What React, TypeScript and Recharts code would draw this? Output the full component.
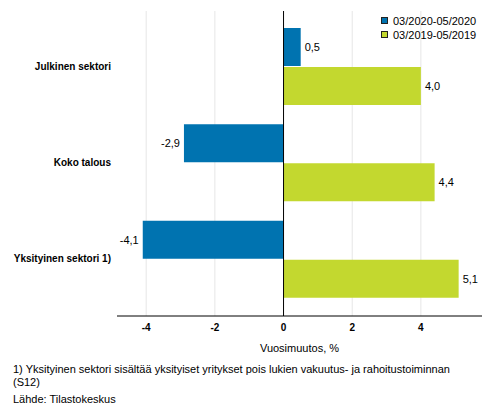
import React from 'react';
import { BarChart, Bar, XAxis, YAxis, CartesianGrid, ReferenceLine, LabelList, Legend } from 'recharts';

const categories = ['Julkinen sektori', 'Koko talous', 'Yksityinen sektori 1)'];
const series2020 = [0.5, -2.9, -4.1];
const series2019 = [4.0, 4.4, 5.1];
const seriesNames = ['03/2020-05/2020', '03/2019-05/2019'];
const seriesColors = ['#0073B0', '#C3D82F'];
const xTicks = [-4, -2, 0, 2, 4];
const xDomain = [-4.85, 5.78];
const axisTitle = 'Vuosimuutos, %';
const footnoteLines = [
  '1) Yksityinen sektori sisältää yksityiset yritykset pois lukien vakuutus- ja rahoitustoiminnan',
  '(S12)',
];
const sourceText = 'Lähde: Tilastokeskus';

const data = categories.map((name, i) => ({ name, a: series2020[i], b: series2019[i] }));

const FONT = '"Liberation Sans", Arial, Helvetica, sans-serif';

const fmt = (v: number) => v.toFixed(1).replace('.', ',');

const YTick = (props: any) => {
  const { x, y, payload } = props;
  return (
    <text x={x} y={y} dy={3.6} textAnchor="end" fontFamily={FONT} fontSize={10} fontWeight="bold" fill="#000">
      {payload.value}
    </text>
  );
};

const XTick = (props: any) => {
  const { x, y, payload } = props;
  return (
    <text x={x} y={y + 15} textAnchor="middle" fontFamily={FONT} fontSize={10} fontWeight="bold" fill="#000">
      {String(payload.value)}
    </text>
  );
};

const BarLabel = (props: any) => {
  const { x, y, width, height, value } = props;
  const left = Math.min(x, x + width);
  const right = Math.max(x, x + width);
  const neg = value < 0;
  return (
    <text
      x={neg ? left - 4 : right + 4}
      y={y + height / 2 + 4}
      textAnchor={neg ? 'end' : 'start'}
      fontFamily={FONT}
      fontSize={11}
      fill="#000"
    >
      {fmt(value)}
    </text>
  );
};

const renderLegend = (props: any) => {
  const payload = [...(props.payload || [])].sort(
    (p: any, q: any) => seriesNames.indexOf(p.value) - seriesNames.indexOf(q.value)
  );
  return (
    <div style={{ fontFamily: FONT, fontSize: 11, lineHeight: '14px', color: '#000' }}>
      {payload.map((p: any, i: number) => (
        <div key={i} style={{ display: 'flex', alignItems: 'center', height: 14 }}>
          <svg width={7} height={7} style={{ marginRight: 5, display: 'block' }}>
            <rect x={0.5} y={0.5} width={6} height={6} fill={p.color} stroke="#222" strokeWidth={1} />
          </svg>
          <span>{p.value}</span>
        </div>
      ))}
    </div>
  );
};

const AxisTitle = (props: any) => {
  const { viewBox } = props;
  return (
    <text
      x={viewBox.x + viewBox.width / 2}
      y={viewBox.y + 35.5}
      textAnchor="middle"
      fontFamily={FONT}
      fontSize={11}
      fill="#000"
    >
      {axisTitle}
    </text>
  );
};

export default function App() {
  return (
    <div style={{ position: 'absolute', left: 0, top: 0, width: 493, height: 416, background: '#fff' }}>
      <BarChart
        width={493}
        height={416}
        data={data}
        layout="vertical"
        margin={{ top: 11, right: 11, bottom: 70, left: 17 }}
        barSize={38}
        barGap={1}
      >
        <CartesianGrid horizontal={false} syncWithTicks stroke="#e6e6e6" strokeWidth={1} />
        <XAxis
          type="number"
          domain={xDomain}
          ticks={xTicks}
          allowDataOverflow
          height={30}
          tickLine={false}
          tickSize={0}
          tickMargin={0}
          axisLine={{ stroke: '#000', strokeWidth: 1 }}
          tick={<XTick />}
          label={<AxisTitle />}
        />
        <YAxis
          type="category"
          dataKey="name"
          width={100}
          axisLine={false}
          tickLine={false}
          tickSize={6}
          tickMargin={0}
          padding={{ top: 7, bottom: 9 }}
          tick={<YTick />}
          interval={0}
        />
        <ReferenceLine x={0} stroke="#000" strokeWidth={1} ifOverflow="extendDomain" />
        <Legend
          layout="vertical"
          align="center"
          verticalAlign="middle"
          itemSorter={null as any}
          content={renderLegend}
          wrapperStyle={{ position: 'absolute', left: 381, top: 13.5, width: 'auto', height: 'auto' }}
        />
        <Bar dataKey="a" name={seriesNames[0]} fill={seriesColors[0]} isAnimationActive={false}>
          <LabelList dataKey="a" content={<BarLabel />} />
        </Bar>
        <Bar dataKey="b" name={seriesNames[1]} fill={seriesColors[1]} isAnimationActive={false}>
          <LabelList dataKey="b" content={<BarLabel />} />
        </Bar>
      </BarChart>
      <div
        style={{
          position: 'absolute',
          left: 13,
          top: 363,
          fontFamily: FONT,
          fontSize: 11,
          lineHeight: '13px',
          color: '#000',
          whiteSpace: 'nowrap',
        }}
      >
        {footnoteLines.map((l, i) => (
          <div key={i}>{l}</div>
        ))}
      </div>
      <div
        style={{
          position: 'absolute',
          left: 13,
          top: 393,
          fontFamily: FONT,
          fontSize: 11,
          lineHeight: '13px',
          color: '#000',
          whiteSpace: 'nowrap',
        }}
      >
        {sourceText}
      </div>
    </div>
  );
}
